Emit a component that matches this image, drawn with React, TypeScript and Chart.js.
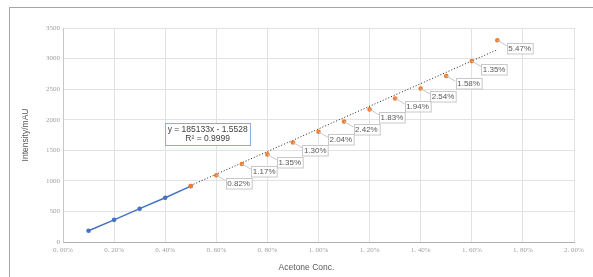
import React, { useEffect, useRef } from "react";
import { Chart, registerables } from "chart.js";

Chart.register(...registerables);

const xBlue = [0.001, 0.002, 0.003, 0.004, 0.005];
const yBlue = [183, 362, 545, 724, 914];
const xOrange = [0.005, 0.006, 0.007, 0.008, 0.009, 0.01, 0.011, 0.012, 0.013, 0.014, 0.015, 0.016, 0.017];
const yOrange = [914, 1092, 1276, 1433, 1628, 1802, 1969, 2169, 2347, 2510, 2716, 2959, 3300];
const orangeLabels = ["", "0.82%", "1.17%", "1.35%", "1.30%", "2.04%", "2.42%", "1.83%", "1.94%", "2.54%", "1.58%", "1.35%", "5.47%"];
const trendSlope = 185133;
const trendIntercept = -1.5528;
const trendRange = [0.005, 0.017];
const equationLines = ["y = 185133x - 1.5528", "R² = 0.9999"];
const equationAnchor = { x: 0.004, y: 1940 };
const xTitle = "Acetone Conc.";
const yTitle = "Intensity/mAU";

const labelPlugin = {
  id: "labelPlugin",
  afterDatasetsDraw(chart: any) {
    const ctx = chart.ctx;
    const xs = chart.scales.x;
    const ys = chart.scales.y;
    ctx.save();
    ctx.font = "8px 'Liberation Sans', Arial, sans-serif";
    ctx.textBaseline = "middle";
    ctx.textAlign = "left";
    orangeLabels.forEach((lab, i) => {
      if (!lab) return;
      const px = xs.getPixelForValue(xOrange[i]);
      const py = ys.getPixelForValue(yOrange[i]);
      const tw = ctx.measureText(lab).width;
      const left = px + 9.5;
      const top = py + 2.5;
      const w = tw + 3;
      const h = 10.5;
      ctx.strokeStyle = "#c8c8c8";
      ctx.lineWidth = 1;
      ctx.beginPath();
      ctx.moveTo(px, py);
      ctx.lineTo(left, top + 3);
      ctx.stroke();
      ctx.fillStyle = "#ffffff";
      ctx.fillRect(left, top, w, h);
      ctx.strokeRect(Math.round(left) + 0.5, Math.round(top) + 0.5, w, h);
      ctx.fillStyle = "#595959";
      ctx.fillText(lab, left + 1.5, top + h / 2 + 0.5);
    });
    // equation box
    const ex = xs.getPixelForValue(equationAnchor.x);
    const ey = ys.getPixelForValue(equationAnchor.y);
    ctx.font = "8.5px 'Liberation Sans', Arial, sans-serif";
    const ew = 85;
    const eh = 22;
    ctx.fillStyle = "#ffffff";
    ctx.fillRect(ex, ey, ew, eh);
    ctx.strokeStyle = "#8faadc";
    ctx.strokeRect(Math.round(ex) + 0.5, Math.round(ey) + 0.5, ew, eh);
    ctx.fillStyle = "#404040";
    ctx.textAlign = "center";
    ctx.fillText(equationLines[0], ex + ew / 2, ey + 6.5);
    ctx.fillText(equationLines[1], ex + ew / 2, ey + 15.5);
    // x axis title, centred on the whole chart frame
    ctx.font = "8.5px 'Liberation Sans', Arial, sans-serif";
    ctx.fillStyle = "#595959";
    ctx.fillText(xTitle, chart.width / 2 + 10, xs.bottom - 9);
    ctx.restore();
  },
};

export default function App() {
  const ref = useRef<HTMLCanvasElement>(null);
  useEffect(() => {
    document.body.style.margin = "0";
    const blue = xBlue.map((x, i) => ({ x, y: yBlue[i] }));
    const orange = xOrange.map((x, i) => ({ x, y: yOrange[i] }));
    const trend = trendRange.map((x) => ({ x, y: trendSlope * x + trendIntercept }));
    const chart = new Chart(ref.current!, {
      type: "scatter",
      data: {
        datasets: [
          {
            data: trend,
            showLine: true,
            borderColor: "#222222",
            borderWidth: 1,
            borderDash: [1, 2],
            pointRadius: 0,
            order: 3,
          },
          {
            data: blue,
            showLine: true,
            borderColor: "#4472C4",
            backgroundColor: "#4472C4",
            borderWidth: 1.5,
            pointRadius: 2.3,
            pointBorderWidth: 0,
            order: 2,
          },
          {
            data: orange,
            showLine: false,
            borderColor: "#ED7D31",
            backgroundColor: "#ED7D31",
            pointRadius: 2.3,
            pointBorderWidth: 0,
            order: 1,
          },
        ],
      },
      options: {
        responsive: false,
        animation: false,
        layout: { padding: { left: 10, right: 19, top: 28, bottom: 0 } },
        plugins: { legend: { display: false }, tooltip: { enabled: false } },
        scales: {
          x: {
            type: "linear",
            min: 0,
            max: 0.02,
            afterFit: (s: any) => {
              s.height = 35;
            },
            ticks: {
              stepSize: 0.002,
              padding: 4,
              color: "#a0a0a0",
              font: { family: "'Liberation Serif', serif", size: 7 },
              callback: (v: any) => (Number(v) * 100).toFixed(2).replace(".", ". ") + "%",
            },
            grid: { color: "#e2e2e2", drawTicks: false },
            border: { color: "#b0b0b0" },
          },
          y: {
            min: 0,
            max: 3500,
            afterFit: (s: any) => {
              s.width = 53;
            },
            ticks: {
              stepSize: 500,
              padding: 3,
              color: "#a0a0a0",
              font: { family: "'Liberation Serif', serif", size: 7 },
              callback: (v: any) => String(v),
            },
            grid: { color: "#e2e2e2", drawTicks: false },
            border: { color: "#c8c8c8" },
            title: {
              display: true,
              text: yTitle,
              color: "#595959",
              font: { family: "'Liberation Sans', Arial, sans-serif", size: 8.5 },
              padding: { top: 11, bottom: 0 },
            },
          },
        },
      },
      plugins: [labelPlugin],
    });
    return () => chart.destroy();
  }, []);
  return (
    <div style={{ position: "relative", width: 593, height: 277, overflow: "hidden", background: "#fff" }}>
      <div
        style={{
          position: "absolute",
          left: 9,
          top: 7,
          width: 700,
          height: 400,
          border: "1.5px solid #a6a6a6",
          boxSizing: "border-box",
        }}
      />
      <canvas ref={ref} width={593} height={277} style={{ position: "absolute", left: 0, top: 0 }} />
    </div>
  );
}
